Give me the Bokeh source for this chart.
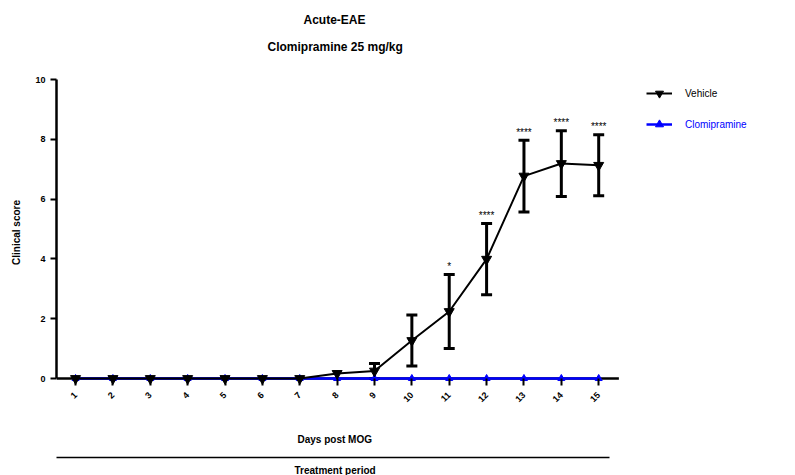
import math
from bokeh.plotting import figure
from bokeh.models import (Range1d, FixedTicker, Whisker, TeeHead, ColumnDataSource,
                          Legend, LegendItem, LinearAxis, Title)
from bokeh.embed import file_html
from bokeh.resources import INLINE
from bokeh.core.properties import value

# ---- data ----
days = list(range(1, 16))
day_labels = [str(d) for d in days]
vehicle_mean = [0, 0, 0, 0, 0, 0, 0, 0.17, 0.25, 1.27, 2.24, 3.99, 6.77, 7.19, 7.13]
vehicle_sem = [0, 0, 0, 0, 0, 0, 0, 0, 0.25, 0.85, 1.24, 1.19, 1.2, 1.1, 1.02]
clomi_mean = [0] * 15
sig_days = [11, 12, 13, 14, 15]
sig_labels = ["*", "****", "****", "****", "****"]
y_ticks = [0, 2, 4, 6, 8, 10]
series_names = ["Vehicle", "Clomipramine"]

FONT = "Liberation Sans"
X_START, X_AXIS_END, X_FRAME_END = 0.49, 15.54, 20.24

p = figure(frame_width=738, frame_height=306,
           x_range=Range1d(X_START, X_FRAME_END), y_range=Range1d(-0.234, 10.0),
           output_backend="svg", toolbar_location=None,
           min_border_left=56, min_border_top=78, min_border_right=0, min_border_bottom=0,
           background_fill_color="white", border_fill_color="white", outline_line_color=None)
p.title.text = ""
p.grid.visible = False

xa = p.below[0]
ya = p.left[0]


def spacer_axis(gap):
    # invisible axis used only to reserve vertical space
    return LinearAxis(ticker=FixedTicker(ticks=[8]), major_label_overrides={8: ""},
                      axis_line_color=None, major_tick_out=gap, major_tick_in=0,
                      major_tick_line_color=None, minor_tick_line_color=None,
                      major_label_standoff=0, major_label_text_font_size="1px")


def make_title(text, offset, size, standoff):
    return Title(text=text, align="left", offset=offset, text_font=FONT, text_font_size=size,
                 text_font_style="bold", text_color="black", standoff=standoff)


# titles (spacer between frame and subtitle)
p.add_layout(spacer_axis(26), "above")
p.add_layout(make_title("Clomipramine 25 mg/kg", 211, "12px", 0), "above")
p.add_layout(make_title("Acute-EAE", 247, "12px", 21), "above")

# x axis (ticks only, drawn from frame bottom up to y=0)
xa.ticker = FixedTicker(ticks=days)
xa.bounds = (X_START, X_AXIS_END)
xa.major_label_overrides = {d: l for d, l in zip(days, day_labels)}
xa.axis_line_color = None
xa.major_tick_in = 7
xa.major_tick_out = 0
xa.major_tick_line_width = 2
xa.minor_tick_line_color = None
xa.major_label_orientation = math.pi / 4
xa.major_label_text_font = FONT
xa.major_label_text_font_size = "9px"
xa.major_label_text_font_style = "bold"
xa.major_label_text_color = "black"
xa.major_label_standoff = 8

p.add_layout(spacer_axis(24), "below")
p.add_layout(make_title("Days post MOG", 241, "10px", 0), "below")
p.add_layout(spacer_axis(13), "below")

xa2 = LinearAxis(ticker=FixedTicker(ticks=[]), major_tick_out=0, major_tick_in=0,
                 axis_line_width=1.5, bounds=(X_START, 15.28), major_label_text_alpha=0,
                 major_tick_line_color=None, minor_tick_line_color=None)
p.add_layout(xa2, "below")
p.add_layout(make_title("Treatment period", 238, "10px", 10), "below")

# y axis
ya.ticker = FixedTicker(ticks=y_ticks)
ya.bounds = (0, 10)
ya.axis_line_width = 2.5
ya.major_tick_out = 6
ya.major_tick_in = 0
ya.major_tick_line_width = 2
ya.minor_tick_line_color = None
ya.major_label_text_font = FONT
ya.major_label_text_font_size = "9px"
ya.major_label_text_font_style = "bold"
ya.major_label_text_color = "black"
ya.major_label_standoff = 5
ya.axis_label = "Clinical score"
ya.axis_label_text_font = FONT
ya.axis_label_text_font_size = "10px"
ya.axis_label_text_font_style = "bold"
ya.axis_label_text_color = "black"
ya.axis_label_standoff = 10

# x axis line at y = 0
p.segment(x0=[X_START], y0=[0], x1=[X_AXIS_END], y1=[0], line_color="black", line_width=2.5,
          level="underlay")

# series
src = ColumnDataSource(dict(x=days, v=vehicle_mean, c=clomi_mean))
err_idx = [i for i, s in enumerate(vehicle_sem) if s > 0]
esrc = ColumnDataSource(dict(x=[days[i] for i in err_idx],
                             upper=[vehicle_mean[i] + vehicle_sem[i] for i in err_idx],
                             lower=[max(0, vehicle_mean[i] - vehicle_sem[i]) for i in err_idx]))

cl = p.line("x", "c", source=src, line_color="#0000ff", line_width=2.5)
cm = p.scatter("x", "c", source=src, marker="triangle", size=7, fill_color="#0000ff",
               line_color="#0000ff")

wh = Whisker(source=esrc, base="x", upper="upper", lower="lower", dimension="height",
             line_width=3, line_color="black",
             upper_head=TeeHead(size=11, line_width=3, line_color="black"),
             lower_head=TeeHead(size=11, line_width=3, line_color="black"))
p.add_layout(wh)

vl = p.line("x", "v", source=src, line_color="black", line_width=2)
vm = p.scatter("x", "v", source=src, marker="inverted_triangle", size=10, fill_color="black",
               line_color="black")

# significance stars
ssrc = ColumnDataSource(dict(x=sig_days,
                             y=[vehicle_mean[days.index(d)] + vehicle_sem[days.index(d)] for d in sig_days],
                             t=sig_labels))
p.text("x", "y", text="t", source=ssrc, text_align="center", text_baseline="middle",
       y_offset=-8, text_font=value(FONT), text_font_size="10px", text_color="black")

common = dict(padding=0, margin=0, glyph_width=26, glyph_height=20, label_height=20,
              label_standoff=13, label_text_font=FONT, label_text_font_size="10px",
              border_line_color=None, background_fill_alpha=0)
leg1 = Legend(items=[LegendItem(label=value(series_names[0]), renderers=[vl, vm])],
              location=(590, 282), label_text_color="black", **common)
leg2 = Legend(items=[LegendItem(label=value(series_names[1]), renderers=[cl, cm])],
              location=(590, 251), label_text_color="#0000ff", **common)
p.add_layout(leg1)
p.add_layout(leg2)

html = file_html(p, INLINE)
open("out.html", "w").write(html)
